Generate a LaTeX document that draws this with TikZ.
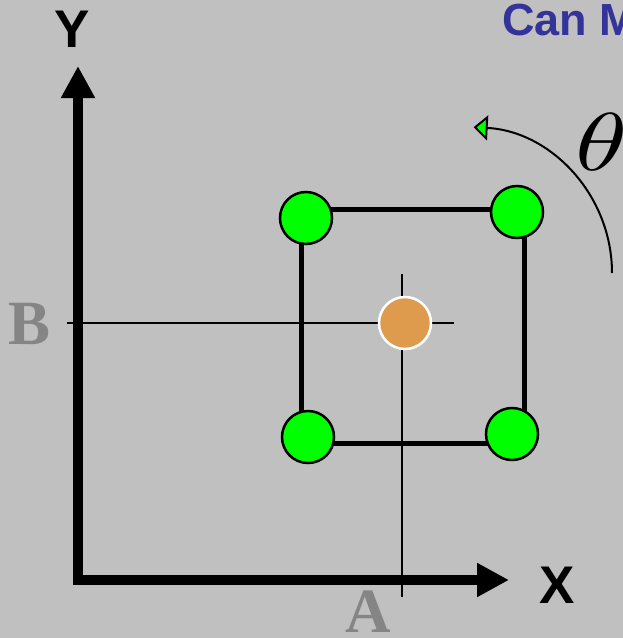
\documentclass[tikz,border=0pt]{standalone}
\usepackage{fontspec}
\setmainfont{Liberation Serif}
\setsansfont{Liberation Sans}
\usepackage{tikz}
\usetikzlibrary{arrows.meta}
\definecolor{panel}{HTML}{C0C0C0}
\definecolor{joint}{HTML}{00FF00}
\definecolor{pivot}{HTML}{DF9B4D}
\definecolor{heading}{HTML}{333399}
\definecolor{faded}{HTML}{858585}

\begin{document}
\begin{tikzpicture}[x=1pt,y=-1pt,
    joint/.style={circle,draw=black,line width=2.5pt,fill=joint,minimum size=52pt,inner sep=0pt},
    pivot/.style={circle,draw=white,line width=2.5pt,fill=pivot,minimum size=52pt,inner sep=0pt},
    axisname/.style={font=\sffamily\bfseries\fontsize{53}{53}\selectfont,inner sep=0pt},
    coordname/.style={font=\rmfamily\bfseries\fontsize{63}{63}\selectfont,text=faded,inner sep=0pt}]
    \fill[panel] (0,0) rectangle (623,638);
    \useasboundingbox (0,0) rectangle (623,638);
    % axes
    \coordinate (yend) at (78,66);
    \coordinate (origin) at (78,580);
    \coordinate (xend) at (509,580);
    \draw[line width=10pt,line join=miter,{Triangle[length=32pt,width=32pt]}-{Triangle[length=32pt,width=32pt]}] (yend) -- (origin) -- (xend);
    \node[axisname] (ylab) at (72,29) {Y};
    \node[axisname] (xlab) at (557,585) {X};
    % part frame and crosshair
    \draw[line width=5pt] (301,209) rectangle (524,443);
    \coordinate (hleft) at (67,323);
    \coordinate (hright) at (454,323);
    \coordinate (vtop) at (402,274);
    \coordinate (vbot) at (402,597);
    \draw[line width=2pt] (hleft) -- (hright);
    \draw[line width=2pt] (vtop) -- (vbot);
    \node[coordname] (blab) at (30,324) {B};
    \node[coordname] (alab) at (368,612) {A};
    % corners and centre
    \node[joint] (tl) at (306,218) {};
    \node[joint] (tr) at (517,212) {};
    \node[joint] (bl) at (308,437) {};
    \node[joint] (br) at (512,434) {};
    \node[pivot] (mid) at (405,323) {};
    % rotation
    \coordinate (turn) at (612,273);
    \draw[line width=2pt,-{Triangle[length=14pt,width=25pt,fill=joint]}] (turn) arc[start angle=0,end angle=87,radius=146pt];
    \node[xscale=10.5,yscale=8.2,inner sep=0pt,anchor=west] (angle) at (573,142) {$\theta$};
    \node[font=\sffamily\bfseries\fontsize{45}{45}\selectfont,text=heading,inner sep=0pt,anchor=base west] (title) at (502,35) {Can M};
\end{tikzpicture}
\end{document}
